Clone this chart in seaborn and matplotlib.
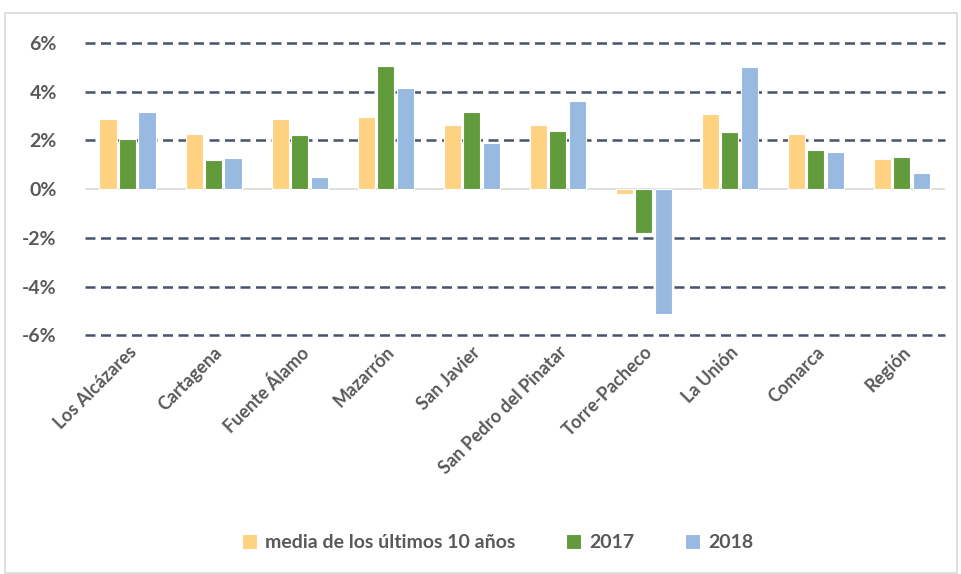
import pandas as pd
import matplotlib.pyplot as plt
import matplotlib
import seaborn as sns
from matplotlib.patches import Rectangle
from matplotlib.ticker import FuncFormatter

# datos (variación en %)
municipios = ['Los Alcázares', 'Cartagena', 'Fuente Álamo', 'Mazarrón', 'San Javier',
              'San Pedro del Pinatar', 'Torre-Pacheco', 'La Unión', 'Comarca', 'Región']
media_10 = [2.87, 2.28, 2.87, 2.96, 2.64, 2.64, -0.19, 3.07, 2.28, 1.23]
v2017 = [2.07, 1.19, 2.22, 5.07, 3.18, 2.39, -1.80, 2.33, 1.60, 1.33]
v2018 = [3.18, 1.28, 0.50, 4.17, 1.91, 3.60, -5.12, 5.01, 1.54, 0.65]
series = ['media de los últimos 10 años', '2017', '2018']
colores = ['#FFD282', '#629B3B', '#98B9E0']


def run():
    sns.set_style('white')
    matplotlib.rcParams['font.family'] = ['Lato', 'DejaVu Sans']

    df = pd.DataFrame({
        'municipio': municipios * 3,
        'serie': [series[0]] * 10 + [series[1]] * 10 + [series[2]] * 10,
        'valor': media_10 + v2017 + v2018,
    })

    fig = plt.figure(figsize=(9.61, 5.74), dpi=100)
    ax = fig.add_axes([0.088, 0.416, 0.895, 0.509])

    # marco del gráfico
    fig.patches.append(Rectangle((5 / 961, 0.002), 952 / 961, 1 - 13 / 574 - 0.002,
                                 transform=fig.transFigure, fill=False,
                                 edgecolor='#D9D9D9', linewidth=1.2))

    sns.barplot(data=df, x='municipio', y='valor', hue='serie', palette=colores,
                saturation=1, width=0.68, gap=0.12, edgecolor='white', linewidth=0.8,
                ax=ax, legend=True)

    ax.set_ylim(-6, 6)
    ax.set_yticks([-6, -4, -2, 0, 2, 4, 6])
    ax.yaxis.set_major_formatter(FuncFormatter(lambda v, p: f'{v:.0f}%'))
    for y in [-6, -4, -2, 2, 4, 6]:
        ax.axhline(y, color='#44546A', linestyle=(0, (4, 2.2)), linewidth=1.8,
                   zorder=0, clip_on=False)
    ax.axhline(0, color='#D9D9D9', linewidth=1.2, zorder=0)

    for s in ax.spines.values():
        s.set_visible(False)
    ax.set_xlabel('')
    ax.set_ylabel('')
    ax.tick_params(axis='y', length=0, pad=20, labelsize=14, labelcolor='#595959')
    ax.tick_params(axis='x', length=0, pad=6, labelsize=13, labelcolor='#595959')
    for t in ax.get_yticklabels():
        t.set_fontweight('bold')
    plt.setp(ax.get_xticklabels(), rotation=45, ha='right', rotation_mode='anchor',
             fontweight='bold')

    ax.legend(loc='center', bbox_to_anchor=(0.48, -0.71), ncol=3, frameon=False,
              handlelength=0.8, handleheight=0.8, columnspacing=2.6, handletextpad=0.4,
              prop={'size': 14, 'weight': 'bold'}, labelcolor='#595959')

    fig.savefig('out.png', dpi=100)


if __name__ == '__main__':
    run()
